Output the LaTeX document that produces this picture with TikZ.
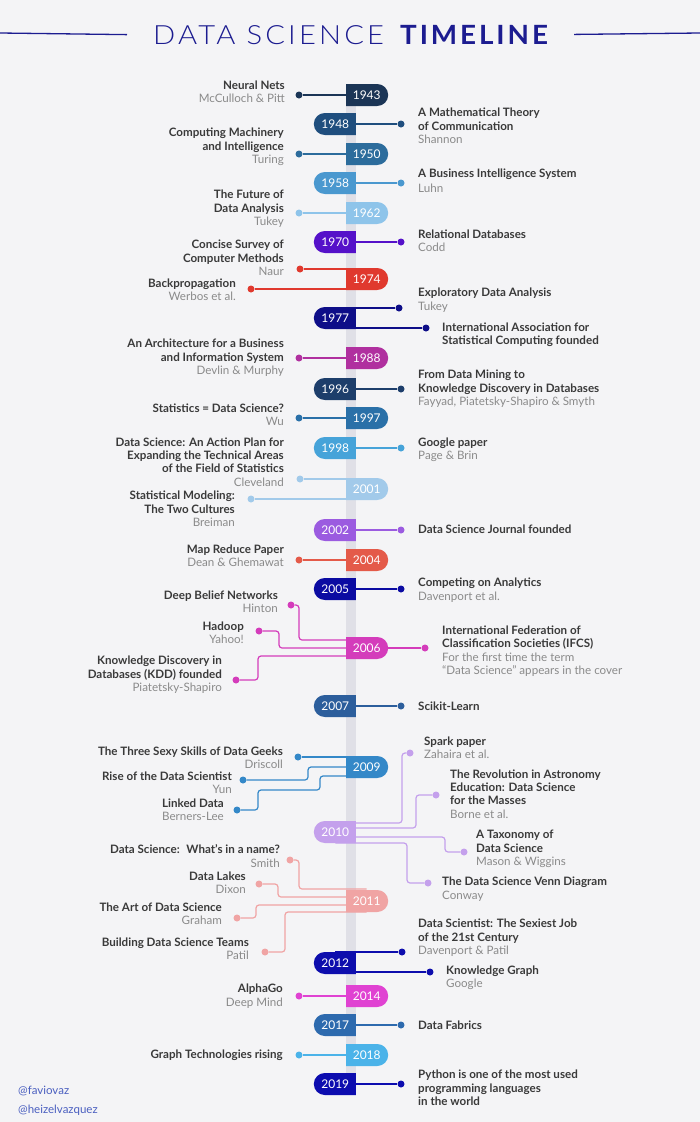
\documentclass[tikz,border=0pt]{standalone}
\usepackage{fontspec}
\setmainfont{Lato}
\newfontfamily\lightfont{Lato Light}[FakeStretch=1.1, LetterSpace=12]
\newfontfamily\heavyfont{Lato}[FakeStretch=1.05, LetterSpace=11, BoldFont={Lato Bold}]
\usetikzlibrary{shapes.misc,backgrounds}

\definecolor{paper}{HTML}{F4F4F6}
\definecolor{spine}{HTML}{E0E0E7}
\definecolor{navy}{HTML}{1C1C90}
\definecolor{ink}{HTML}{3A3A3A}
\definecolor{auth}{HTML}{8A8A8A}
\definecolor{handle}{HTML}{4A5FC0}
\definecolor{c1943}{HTML}{1B3556}
\definecolor{c1948}{HTML}{1F4E7E}
\definecolor{c1950}{HTML}{2C6C9C}
\definecolor{c1958}{HTML}{4A98CF}
\definecolor{c1962}{HTML}{8EC4EA}
\definecolor{c1970}{HTML}{5511C9}
\definecolor{c1974}{HTML}{E0392E}
\definecolor{c1977}{HTML}{0E0E88}
\definecolor{c1988}{HTML}{B0309F}
\definecolor{c1996}{HTML}{1D3E6B}
\definecolor{c1997}{HTML}{2A70A8}
\definecolor{c1998}{HTML}{46A3D9}
\definecolor{c2001}{HTML}{A2CAEA}
\definecolor{c2002}{HTML}{9B5BE0}
\definecolor{c2004}{HTML}{E45A49}
\definecolor{c2005}{HTML}{0B0BA2}
\definecolor{c2006}{HTML}{D43CBB}
\definecolor{c2007}{HTML}{2C5E9C}
\definecolor{c2009}{HTML}{3488C8}
\definecolor{c2010}{HTML}{C4A0EC}
\definecolor{c2011}{HTML}{F0A4A4}
\definecolor{c2012}{HTML}{0D0DAD}
\definecolor{c2014}{HTML}{E042D2}
\definecolor{c2017}{HTML}{2D6AAE}
\definecolor{c2018}{HTML}{4BB3E9}
\definecolor{c2019}{HTML}{0C0CAF}

\newcommand\byname[1]{{\mdseries\color{auth}#1}}

\tikzset{
  yrR/.style={rounded rectangle, rounded rectangle west arc=none, anchor=west,
    fill=#1, text=white, minimum width=42pt, minimum height=22pt, inner sep=0pt,
    font=\fontsize{12}{14}\selectfont},
  yrL/.style={rounded rectangle, rounded rectangle east arc=none, anchor=east,
    fill=#1, text=white, minimum width=42pt, minimum height=22pt, inner sep=0pt,
    font=\fontsize{12}{14}\selectfont},
  dot/.style={circle, fill=#1, inner sep=0pt, minimum size=7pt},
  ln/.style={draw=#1, line width=1.2pt, rounded corners=3pt},
  evL/.style={anchor=east, align=right, inner sep=0pt, text=ink,
    font=\fontsize{11.6}{13.4}\selectfont\bfseries},
  evR/.style={anchor=west, align=left, inner sep=0pt, text=ink,
    font=\fontsize{11.6}{13.4}\selectfont\bfseries},
}

\begin{document}
\begin{tikzpicture}[x=1pt,y=-1pt]
\useasboundingbox (0,0) rectangle (700,1122);
\begin{pgfonlayer}{background}
  \fill[paper] (0,0) rectangle (700,1122);
  \fill[spine] (346,95) rectangle (356,1090);
\end{pgfonlayer}

% title
\node[text=navy, inner sep=0pt, anchor=base west, font=\fontsize{26.5}{30}\lightfont]
  (ttlA) at (153,44) {DATA SCIENCE};
\node[text=navy, inner sep=0pt, anchor=base west, font=\fontsize{26.5}{30}\heavyfont\bfseries]
  (ttlB) at (400,44) {TIMELINE};
\draw[navy, line width=1.3pt] (0,33) -- ([xshift=-26pt]ttlA.west);
\draw[navy, line width=1.3pt] ([xshift=26pt]ttlB.east) -- (700,33);

% years
\node[yrR=c1943] (y1943) at (346,95) {1943};
\node[yrL=c1948] (y1948) at (356,124) {1948};
\node[yrR=c1950] (y1950) at (346,154) {1950};
\node[yrL=c1958] (y1958) at (356,183) {1958};
\node[yrR=c1962] (y1962) at (346,213) {1962};
\node[yrL=c1970] (y1970) at (356,242) {1970};
\node[yrR=c1974] (y1974) at (346,279) {1974};
\node[yrL=c1977] (y1977) at (356,318) {1977};
\node[yrR=c1988] (y1988) at (346,358) {1988};
\node[yrL=c1996] (y1996) at (356,389) {1996};
\node[yrR=c1997] (y1997) at (346,418) {1997};
\node[yrL=c1998] (y1998) at (356,448) {1998};
\node[yrR=c2001] (y2001) at (346,489) {2001};
\node[yrL=c2002] (y2002) at (356,530) {2002};
\node[yrR=c2004] (y2004) at (346,560) {2004};
\node[yrL=c2005] (y2005) at (356,589) {2005};
\node[yrR=c2006] (y2006) at (346,648) {2006};
\node[yrL=c2007] (y2007) at (356,706) {2007};
\node[yrR=c2009] (y2009) at (346,767) {2009};
\node[yrL=c2010] (y2010) at (356,832) {2010};
\node[yrR=c2011] (y2011) at (346,901) {2011};
\node[yrL=c2012] (y2012) at (356,963) {2012};
\node[yrR=c2014] (y2014) at (346,996) {2014};
\node[yrL=c2017] (y2017) at (356,1025) {2017};
\node[yrR=c2018] (y2018) at (346,1055) {2018};
\node[yrL=c2019] (y2019) at (356,1084) {2019};

% dots
\node[dot=c1943] (d1943) at (299,95) {};
\node[dot=c1948] (d1948) at (401,124) {};
\node[dot=c1950] (d1950) at (299,154) {};
\node[dot=c1958] (d1958) at (401,183) {};
\node[dot=c1962] (d1962) at (299,213) {};
\node[dot=c1970] (d1970) at (401,242) {};
\node[dot=c1974] (dnaur) at (300,269) {};
\node[dot=c1974] (dwerb) at (251,289) {};
\node[dot=c1977] (deda) at (399,308) {};
\node[dot=c1977] (diasc) at (426,328) {};
\node[dot=c1988] (d1988) at (299,358) {};
\node[dot=c1996] (d1996) at (401,389) {};
\node[dot=c1997] (d1997) at (299,418) {};
\node[dot=c1998] (d1998) at (401,448) {};
\node[dot=c2001] (dclev) at (300,479) {};
\node[dot=c2001] (dbrei) at (251,499) {};
\node[dot=c2002] (d2002) at (401,530) {};
\node[dot=c2004] (d2004) at (299,560) {};
\node[dot=c2005] (d2005) at (401,589) {};
\node[dot=c2006] (dhint) at (291,605) {};
\node[dot=c2006] (dhad) at (259,631) {};
\node[dot=c2006] (dkdd) at (236,680) {};
\node[dot=c2006] (difcs) at (425,648) {};
\node[dot=c2007] (d2007) at (401,706) {};
\node[dot=c2009] (ddris) at (298,757) {};
\node[dot=c2009] (dyun) at (243,780) {};
\node[dot=c2009] (dlink) at (237,810) {};
\node[dot=c2010] (dspark) at (410,753) {};
\node[dot=c2010] (drev) at (436,795) {};
\node[dot=c2010] (dtax) at (464,852) {};
\node[dot=c2010] (dvenn) at (428,883) {};
\node[dot=c2011] (dsmith) at (290,860) {};
\node[dot=c2011] (ddixon) at (259,884) {};
\node[dot=c2011] (dgrah) at (237,918) {};
\node[dot=c2011] (dpatil) at (265,952) {};
\node[dot=c2012] (dsexy) at (402,952) {};
\node[dot=c2012] (dkg) at (430,972) {};
\node[dot=c2014] (d2014) at (299,996) {};
\node[dot=c2017] (d2017) at (401,1025) {};
\node[dot=c2018] (d2018) at (299,1055) {};
\node[dot=c2019] (d2019) at (401,1084) {};

% connectors
\begin{pgfonlayer}{background}
  \draw[ln=c1943] (d1943) -- (y1943.center);
  \draw[ln=c1948] (y1948.center) -- (d1948);
  \draw[ln=c1950] (d1950) -- (y1950.center);
  \draw[ln=c1958] (y1958.center) -- (d1958);
  \draw[ln=c1962] (d1962) -- (y1962.center);
  \draw[ln=c1970] (y1970.center) -- (d1970);
  \draw[ln=c1974] (dnaur) -- (dnaur -| y1974.center);
  \draw[ln=c1974] (dwerb) -- (dwerb -| y1974.center);
  \draw[ln=c1977] (deda -| y1977.center) -- (deda);
  \draw[ln=c1977] (diasc -| y1977.center) -- (diasc);
  \draw[ln=c1988] (d1988) -- (y1988.center);
  \draw[ln=c1996] (y1996.center) -- (d1996);
  \draw[ln=c1997] (d1997) -- (y1997.center);
  \draw[ln=c1998] (y1998.center) -- (d1998);
  \draw[ln=c2001] (dclev) -- (dclev -| y2001.center);
  \draw[ln=c2001] (dbrei) -- (dbrei -| y2001.center);
  \draw[ln=c2002] (y2002.center) -- (d2002);
  \draw[ln=c2004] (d2004) -- (y2004.center);
  \draw[ln=c2005] (y2005.center) -- (d2005);
  \draw[ln=c2006] (dhint) -- ++(8,0) |- (y2006.center |- 0,640);
  \draw[ln=c2006] (dhad) -- ++(20,0) |- (y2006.center);
  \draw[ln=c2006] (dkdd) -- ++(22,0) |- (y2006.center |- 0,656);
  \draw[ln=c2006] (y2006.center) -- (difcs);
  \draw[ln=c2007] (y2007.center) -- (d2007);
  \draw[ln=c2009] (ddris) -- (ddris -| y2009.center);
  \draw[ln=c2009] (dyun) -- ++(65,0) |- (y2009.center);
  \draw[ln=c2009] (dlink) -| (258,790) -| (320,776) -- (y2009.center |- 0,776);
  \draw[ln=c2010] (y2010.center |- 0,823) -| (402,753) -- (dspark);
  \draw[ln=c2010] (y2010.center |- 0,828) -| (416,795) -- (drev);
  \draw[ln=c2010] (y2010.center |- 0,837) -| (445,852) -- (dtax);
  \draw[ln=c2010] (y2010.center |- 0,843) -| (407,883) -- (dvenn);
  \draw[ln=c2011] (dsmith) -- ++(9,0) |- (y2011.center |- 0,889);
  \draw[ln=c2011] (ddixon) -- ++(19,0) |- (y2011.center |- 0,897);
  \draw[ln=c2011] (dgrah) -- ++(19,0) |- (y2011.center |- 0,905);
  \draw[ln=c2011] (dpatil) -- ++(20,0) |- (y2011.center |- 0,912);
  \draw[ln=c2012] (dsexy -| y2012.center) -- (dsexy);
  \draw[ln=c2012] (dkg -| y2012.center) -- (dkg);
  \draw[ln=c2014] (d2014) -- (y2014.center);
  \draw[ln=c2017] (y2017.center) -- (d2017);
  \draw[ln=c2018] (d2018) -- (y2018.center);
  \draw[ln=c2019] (y2019.center) -- (d2019);
\end{pgfonlayer}

% events
\node[evL] (t1943) at (285,92) {Neural Nets\\\byname{McCulloch \& Pitt}};
\node[evR] (t1948) at (418,126) {A Mathematical Theory\\of Communication\\\byname{Shannon}};
\node[evL] (t1950) at (284,147) {Computing Machinery\\and Intelligence\\\byname{Turing}};
\node[evR] (t1958) at (418,181) {A Business Intelligence System\\[2pt]\byname{Luhn}};
\node[evL] (t1962) at (284,209) {The Future of\\Data Analysis\\\byname{Tukey}};
\node[evR] (t1970) at (418,241) {Relational Databases\\\byname{Codd}};
\node[evL] (tnaur) at (284,258) {Concise Survey of\\Computer Methods\\\byname{Naur}};
\node[evL] (twerb) at (236,290) {Backpropagation\\\byname{Werbos et al.}};
\node[evR] (teda) at (418,300) {Exploratory Data Analysis\\\byname{Tukey}};
\node[evR] (tiasc) at (442,335) {International Association for\\Statistical Computing founded};
\node[evL] (t1988) at (284,358) {An Architecture for a Business\\and Information System\\\byname{Devlin \& Murphy}};
\node[evR] (t1996) at (418,389) {From Data Mining to\\Knowledge Discovery in Databases\\\byname{Fayyad, Piatetsky-Shapiro \& Smyth}};
\node[evL] (t1997) at (284,415) {Statistics = Data Science?\\\byname{Wu}};
\node[evR] (t1998) at (418,450) {Google paper\\\byname{Page \& Brin}};
\node[evL] (tclev) at (284,462) {Data Science: An Action Plan for\\Expanding the Technical Areas\\of the Field of Statistics\\\byname{Cleveland}};
\node[evL] (tbrei) at (235,509) {Statistical Modeling:\\The Two Cultures\\\byname{Breiman}};
\node[evR] (t2002) at (418,529) {Data Science Journal founded};
\node[evL] (t2004) at (284,556) {Map Reduce Paper\\\byname{Dean \& Ghemawat}};
\node[evR] (t2005) at (418,590) {Competing on Analytics\\\byname{Davenport et al.}};
\node[evL] (thint) at (278,602) {Deep Belief Networks\\\byname{Hinton}};
\node[evL] (thad) at (244,633) {Hadoop\\\byname{Yahoo!}};
\node[evL] (tkdd) at (222,675) {Knowledge Discovery in\\Databases (KDD) founded\\\byname{Piatetsky-Shapiro}};
\node[evR] (tifcs) at (442,651) {International Federation of\\Classification Societies (IFCS)\\\byname{For the first time the term}\\\byname{``Data Science'' appears in the cover}};
\node[evR] (t2007) at (418,706) {Scikit-Learn};
\node[evL] (tdris) at (283,758) {The Three Sexy Skills of Data Geeks\\\byname{Driscoll}};
\node[evL] (tyun) at (232,783) {Rise of the Data Scientist\\\byname{Yun}};
\node[evL] (tlink) at (224,810) {Linked Data\\\byname{Berners-Lee}};
\node[evR] (tspark) at (424,748) {Spark paper\\\byname{Zahaira et al.}};
\node[evR] (trev) at (450,794) {The Revolution in Astronomy\\Education: Data Science\\for the Masses\\\byname{Borne et al.}};
\node[evR] (ttax) at (476,849) {A Taxonomy of\\Data Science\\\byname{Mason \& Wiggins}};
\node[evR] (tvenn) at (442,889) {The Data Science Venn Diagram\\\byname{Conway}};
\node[evL] (tsmith) at (280,856) {Data Science:~ What's in a name?\\\byname{Smith}};
\node[evL] (tdixon) at (246,883) {Data Lakes\\\byname{Dixon}};
\node[evL] (tgrah) at (222,914) {The Art of Data Science\\\byname{Graham}};
\node[evL] (tpatil) at (249,949) {Building Data Science Teams\\\byname{Patil}};
\node[evR] (tsexy) at (418,938) {Data Scientist: The Sexiest Job\\of the 21st Century\\\byname{Davenport \& Patil}};
\node[evR] (tkg) at (446,978) {Knowledge Graph\\\byname{Google}};
\node[evL] (t2014) at (283,996) {AlphaGo\\\byname{Deep Mind}};
\node[evR] (t2017) at (418,1025) {Data Fabrics};
\node[evL] (t2018) at (283,1055) {Graph Technologies rising};
\node[evR] (t2019) at (418,1088) {Python is one of the most used\\programming languages\\in the world};

% handles
\node[anchor=west, align=left, inner sep=0pt, text=handle,
  font=\fontsize{11.5}{19}\selectfont] (tags) at (18,1101) {@faviovaz\\@heizelvazquez};
\end{tikzpicture}
\end{document}
